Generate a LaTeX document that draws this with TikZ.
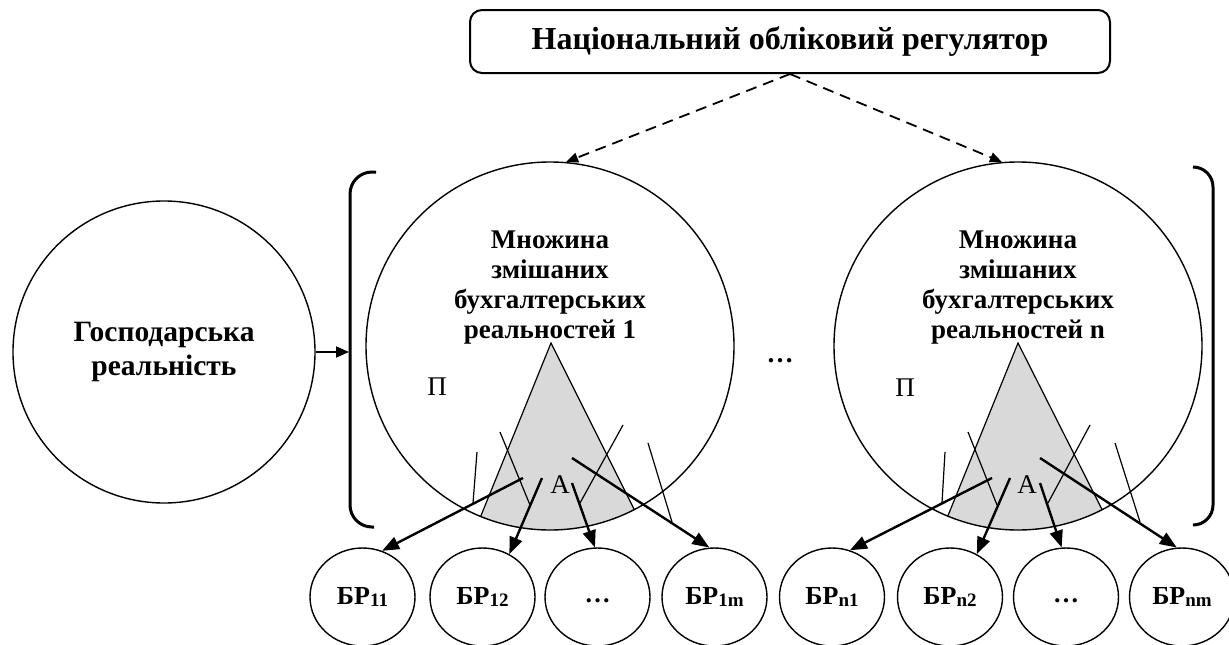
\documentclass[tikz,border=0pt]{standalone}
\usepackage{fontspec}
\setmainfont{Liberation Serif}
\usetikzlibrary{arrows.meta,shapes.geometric}
\definecolor{coneGray}{RGB}{217,217,217}
\newcommand\brsub[1]{{\fontsize{19}{19}\selectfont\raisebox{-2pt}{#1}}}
\begin{document}
\begin{tikzpicture}[x=1pt,y=-1pt,
  bold27/.style={font=\fontsize{27}{30}\selectfont\bfseries, align=center, inner sep=0pt},
  plain27/.style={font=\fontsize{27}{30}\selectfont, inner sep=0pt},
  bigset/.style={draw, circle, line width=1.4pt, minimum size=368pt, inner sep=0pt},
  brnode/.style={draw, ellipse, line width=1.4pt, minimum width=105pt, minimum height=98pt, inner sep=0pt,
                 font=\fontsize{26}{28}\selectfont\bfseries},
  thinline/.style={line width=1.2pt},
  thickarrow/.style={line width=2.4pt, -{Triangle[length=17pt,width=13pt]}},
  dasharrow/.style={line width=1.8pt, dash pattern=on 11pt off 7pt, -{Triangle[length=12pt,width=10pt]}},
  bracket/.style={line width=3pt, rounded corners=22pt}]
\useasboundingbox (0,0) rectangle (1229,645);

% regulator box
\node[draw, line width=2pt, rounded corners=12pt, minimum width=640pt, minimum height=63pt,
      font=\fontsize{32}{34}\selectfont\bfseries] (nor) at (790,41.5) {Національний обліковий регулятор};

% economic reality
\node[draw, circle, line width=1.4pt, minimum size=302pt, inner sep=0pt, align=center,
      font=\fontsize{29.5}{34}\selectfont\bfseries] (gr) at (164,352) {Господарська\\реальність};
\coordinate (brin) at (349,352);
\draw[line width=2pt, -{Triangle[length=13pt,width=11pt]}] (gr.east) -- (brin);

% brackets
\draw[bracket] (376,172) -| (350,527) -- (374,527);
\draw[bracket, rounded corners=20pt] (1193,167) -| (1213,525) -- (1193,525);

% middle ellipsis
\node[bold27] (mid) at (780,361) {\dots};

% bottom row
\node[brnode] (b11) at (362.5,597) {БР\brsub{11}};
\node[brnode] (b12) at (482.5,597) {БР\brsub{12}};
\node[brnode] (b1d) at (597.5,597) {\strut\dots};
\node[brnode] (b1m) at (714.5,597) {БР\brsub{1m}};
\node[brnode] (bn1) at (832,597) {БР\brsub{n1}};
\node[brnode] (bn2) at (950,597) {БР\brsub{n2}};
\node[brnode] (bnd) at (1066,597) {\strut\dots};
\node[brnode] (bnm) at (1182,597) {БР\brsub{nm}};

% first set of mixed realities
\begin{scope}[shift={(550,0)}]
  \begin{scope}
    \clip (0,346) circle[radius=184pt];
    \fill[coneGray] (1,343) -- (-87,560) -- (109.5,560) -- cycle;
    \draw[thinline] (-87,560) -- (1,343) -- (109.5,560);
  \end{scope}
  \node[bigset] (m1) at (0,346) {};
  \node[bold27] (m1t) at (0,288) {Множина\\змішаних\\бухгалтерських\\реальностей 1};
  \node[plain27] (p1) at (-113,387) {П};
  \node[plain27] (a1) at (10,485) {А};
  \draw[thinline] (-73,452) -- (-77,503);
  \draw[thinline] (-50,432) -- (-20,505);
  \draw[thinline] (73,425) -- (30,503);
  \draw[thinline] (98,443) -- (122,522);
  \coordinate (s11) at (-27,478);
  \coordinate (s12) at (-8,478);
  \coordinate (s13) at (22,483);
  \coordinate (s14) at (22,458);
\end{scope}

% n-th set of mixed realities
\begin{scope}[shift={(1018,0)}]
  \begin{scope}
    \clip (0,346) circle[radius=184pt];
    \fill[coneGray] (0,343) -- (-88,560) -- (109.5,560) -- cycle;
    \draw[thinline] (-88,560) -- (0,343) -- (109.5,560);
  \end{scope}
  \node[bigset] (mn) at (0,346) {};
  \node[bold27] (mnt) at (0,288) {Множина\\змішаних\\бухгалтерських\\реальностей n};
  \node[plain27] (pn) at (-113,388) {П};
  \node[plain27] (an) at (9,485) {А};
  \draw[thinline] (-73,452) -- (-76,503);
  \draw[thinline] (-50,432) -- (-21,505);
  \draw[thinline] (72,425) -- (30,503);
  \draw[thinline] (97,443) -- (122,522);
  \coordinate (sn1) at (-26,478);
  \coordinate (sn2) at (-8,478);
  \coordinate (sn3) at (22,483);
  \coordinate (sn4) at (22,458);
\end{scope}

% regulator influence
\draw[dasharrow] (nor.south) -- (m1.85);
\draw[dasharrow] (nor.south) -- (mn.95);

% links to accounting realities
\draw[thickarrow] (s11) -- (b11.67);
\draw[thickarrow] (s12) -- (b12.58);
\draw[thickarrow] (s13) -- (b1d.93);
\draw[thickarrow] (s14) -- (b1m.96);
\draw[thickarrow] (sn1) -- (bn1.69);
\draw[thickarrow] (sn2) -- (bn2.58);
\draw[thickarrow] (sn3) -- (bnd.95);
\draw[thickarrow] (sn4) -- (bnm.96);
\end{tikzpicture}
\end{document}
